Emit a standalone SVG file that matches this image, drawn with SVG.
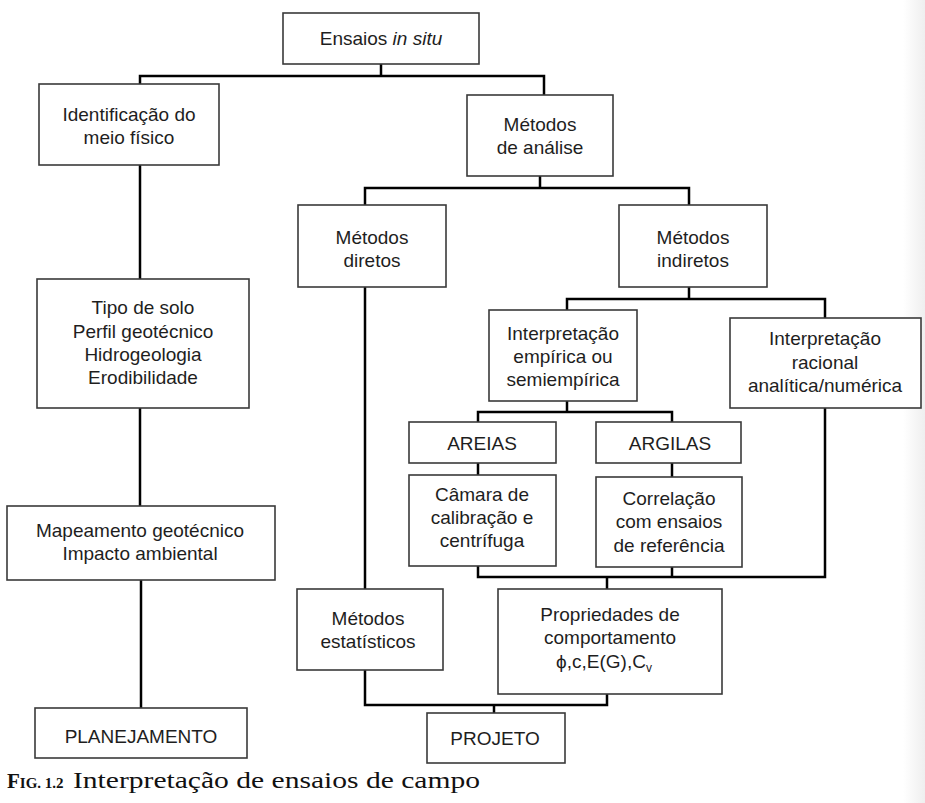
<svg xmlns="http://www.w3.org/2000/svg" width="925" height="803" viewBox="0 0 925 803">
<defs>
<linearGradient id="edge" x1="0" y1="0" x2="1" y2="0">
<stop offset="0" stop-color="#ffffff"/>
<stop offset="1" stop-color="#efefef"/>
</linearGradient>
</defs>
<style>
.box{fill:#fff;stroke:#3a3a3a;stroke-width:1.6}
.t{font-family:"Liberation Sans",Arial,sans-serif;font-size:19px;fill:#1e1e1e;text-anchor:middle}
.c{fill:none;stroke:#000;stroke-width:2.5}
.cap{font-family:"Liberation Serif","Times New Roman",serif;fill:#111}
</style>
<rect x="0" y="0" width="925" height="803" fill="#fff"/>
<rect x="903" y="0" width="22" height="803" fill="url(#edge)"/>

<g id="connectors" class="c">
<path d="M381,64 V76 M140,84 V76 H544 V95"/>
<path d="M140,165 V279"/>
<path d="M140,408 V506"/>
<path d="M141,580 V708"/>
<path d="M540,176 V188 M365,205 V188 H689 V205"/>
<path d="M365,287 V589"/>
<path d="M689,287 V299 M567,310 V299 H825 V318"/>
<path d="M567,401 V412 M478,422 V412 H672 V422"/>
<path d="M478,463 V475 M672,463 V477"/>
<path d="M478,566 V577 H825 V408 M672,567 V577 M607,577 V589"/>
<path d="M365,670 V705 H607 V694 M494,705 V713"/>
</g>

<g id="ensaios"><rect class="box" x="283" y="13" width="196" height="51"/>
<text class="t" x="381" y="45">Ensaios <tspan font-style="italic">in situ</tspan></text></g>

<g id="identificacao"><rect class="box" x="39" y="84" width="180" height="81"/>
<text class="t" x="129" y="121">Identificação do</text>
<text class="t" x="129" y="144">meio físico</text></g>

<g id="analise"><rect class="box" x="467" y="95" width="146" height="81"/>
<text class="t" x="540" y="131">Métodos</text>
<text class="t" x="540" y="154">de análise</text></g>

<g id="diretos"><rect class="box" x="298" y="205" width="148" height="82"/>
<text class="t" x="372" y="244">Métodos</text>
<text class="t" x="372" y="267">diretos</text></g>

<g id="indiretos"><rect class="box" x="619" y="205" width="148" height="82"/>
<text class="t" x="693" y="244">Métodos</text>
<text class="t" x="693" y="267">indiretos</text></g>

<g id="tipo"><rect class="box" x="37" y="279" width="212" height="129"/>
<text class="t" x="143" y="314">Tipo de solo</text>
<text class="t" x="143" y="338">Perfil geotécnico</text>
<text class="t" x="143" y="361">Hidrogeologia</text>
<text class="t" x="143" y="384">Erodibilidade</text></g>

<g id="empirica"><rect class="box" x="489" y="310" width="148" height="91"/>
<text class="t" x="563" y="340">Interpretação</text>
<text class="t" x="563" y="363">empírica ou</text>
<text class="t" x="563" y="386">semiempírica</text></g>

<g id="racional"><rect class="box" x="730" y="318" width="191" height="90"/>
<text class="t" x="825" y="345">Interpretação</text>
<text class="t" x="825" y="369">racional</text>
<text class="t" x="825" y="392">analítica/numérica</text></g>

<g id="areias"><rect class="box" x="409" y="422" width="147" height="41"/>
<text class="t" x="482" y="450">AREIAS</text></g>

<g id="argilas"><rect class="box" x="596" y="422" width="145" height="41"/>
<text class="t" x="670" y="450">ARGILAS</text></g>

<g id="camara"><rect class="box" x="409" y="475" width="147" height="91"/>
<text class="t" x="482" y="501">Câmara de</text>
<text class="t" x="482" y="524">calibração e</text>
<text class="t" x="482" y="547">centrífuga</text></g>

<g id="correlacao"><rect class="box" x="596" y="477" width="146" height="90"/>
<text class="t" x="669" y="505">Correlação</text>
<text class="t" x="669" y="528">com ensaios</text>
<text class="t" x="669" y="552">de referência</text></g>

<g id="mapeamento"><rect class="box" x="7" y="506" width="268" height="74"/>
<text class="t" x="140" y="537">Mapeamento geotécnico</text>
<text class="t" x="140" y="560">Impacto ambiental</text></g>

<g id="estatisticos"><rect class="box" x="297" y="589" width="146" height="81"/>
<text class="t" x="368" y="625">Métodos</text>
<text class="t" x="368" y="648">estatísticos</text></g>

<g id="propriedades"><rect class="box" x="498" y="589" width="224" height="105"/>
<text class="t" x="610" y="621">Propriedades de</text>
<text class="t" x="610" y="644">comportamento</text>
<text class="t" x="604" y="668">ϕ,c,E(G),C<tspan font-size="12" dy="4">v</tspan></text></g>

<g id="planejamento"><rect class="box" x="35" y="708" width="212" height="50"/>
<text class="t" x="141" y="743">PLANEJAMENTO</text></g>

<g id="projeto"><rect class="box" x="427" y="713" width="138" height="50"/>
<text class="t" x="495" y="745">PROJETO</text></g>

<g id="caption">
<text class="cap" x="7" y="788" font-weight="bold"><tspan font-size="21">F</tspan><tspan font-size="15">IG. 1.2</tspan></text>
<text class="cap" x="73" y="788" font-size="23" textLength="407" lengthAdjust="spacingAndGlyphs">Interpretação de ensaios de campo</text>
</g>
</svg>
